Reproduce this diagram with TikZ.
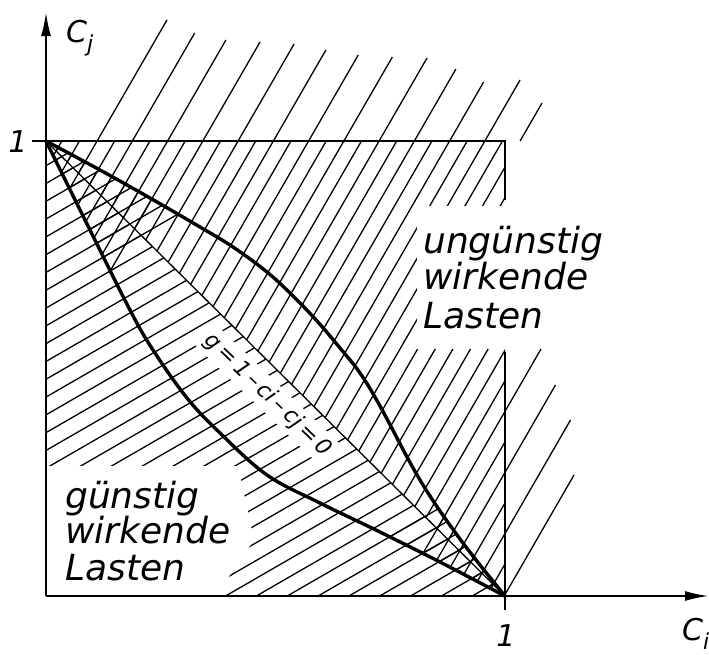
\documentclass[tikz,border=0pt]{standalone}
\usepackage{fontspec}
\setmainfont{DejaVu Sans}
\usetikzlibrary{arrows.meta}
\begin{document}
\begin{tikzpicture}[x=1pt,y=-1pt,
  thinl/.style={line width=1.3pt},
  edge/.style={line width=2.4pt},
  thickcurve/.style={line width=3.4pt, line join=round, line cap=round},
  lab/.style={font=\fontsize{36}{40}\selectfont\itshape, inner sep=0pt, anchor=base west},
  axlab/.style={font=\fontsize{30}{34}\selectfont\itshape, inner sep=0pt},
  numlab/.style={font=\fontsize{30}{34}\selectfont\itshape, inner sep=0pt},
  axis/.style={line width=2.2pt, -{Latex[length=24pt,width=10pt]}}
]
\useasboundingbox (0,0) rectangle (709,654);
\coordinate (O) at (46,596);
\coordinate (A) at (46,141);
\coordinate (B) at (505,596);
\coordinate (C) at (505,141);

% steep hatch inside, above diagonal
\begin{scope}
\clip (A) -- (C) -- (B) -- cycle;
\foreach \j in {-4,...,40} {
  \pgfmathsetmacro\k{178.5+17.625*\j}
  \draw[thinl] (\k,0) -- ({\k-377.6},654);
}
\end{scope}
% shallow hatch below diagonal
\begin{scope}
\clip (A) -- (O) -- (B) -- cycle;
\foreach \j in {-4,...,42} {
  \pgfmathsetmacro\m{210+17.8*\j}
  \draw[thinl] (0,\m) -- (709,{\m-409.3});
}
\end{scope}
% cross-hatching between the two curves near both corners
\begin{scope}
\clip plot[smooth, tension=0.6] coordinates {(46,141) (100,170) (150,198) (200,227) (233,247) (267,272) (293,296) (317,321) (340,348) (360,373) (380,406) (420,480) (460,539) (505,596)}
  -- plot[smooth, tension=0.6] coordinates {(505,596) (440,562) (380,532) (320,503) (267,475) (220,433) (187,398) (153,350) (130,310) (88,226) (46,141)} -- cycle;
\foreach \j in {-3,...,5,32,33,...,38} {
  \pgfmathsetmacro\k{178.5+17.625*\j}
  \draw[thinl] (\k,0) -- ({\k-377.6},654);
}
\foreach \j in {-2,...,6,31,32,...,38} {
  \pgfmathsetmacro\m{210+17.8*\j}
  \draw[thinl] (0,\m) -- (709,{\m-409.3});
}
\end{scope}
% outer steep hatch above the square
\foreach \n/\ye in {0/20,1/33,2/40,3/42,4/44,5/50,6/55,7/57,8/58,9/69,10/82,11/80,12/103} {
  \pgfmathsetmacro\k{178.5+35.25*\n}
  \draw[thinl] ({\k-0.57735*\ye},\ye) -- ({\k-0.57735*141},141);
}
% outer steep hatch right of the square
\foreach \n/\ye in {16/348,17/385,18/420,19/475} {
  \pgfmathsetmacro\k{178.5+35.25*\n}
  \draw[thinl] ({\k-0.57735*\ye},\ye) -- (505,{(\k-505)/0.57735});
}

% white areas behind texts
\fill[white] (417,206) rectangle (625,349);
\fill[white] (40,466) -- (238,466) -- (254,540) -- (230,575) -- (216,602) -- (40,602) -- cycle;

% square
\draw[edge] (32,141) -- (C) -- (505,200);
\draw[edge] (505,352) -- (505,610);
% diagonal g = 0
\draw[thinl] (A) -- (B);

% label of g
\node[fill=white, inner sep=4pt, rotate=-44, font=\fontsize{22}{26}\selectfont\itshape] (glab) at (268,395)
  {g\,=\,1\,–\,ci\,–\,cj\,=\,0};

% curves
\draw[thickcurve] plot[smooth, tension=0.6] coordinates {(46,141) (100,170) (150,198) (200,227) (233,247) (267,272) (293,296) (317,321) (340,348) (360,373) (380,406) (420,480) (460,539) (505,596)};
\draw[thickcurve] plot[smooth, tension=0.6] coordinates {(46,141) (88,226) (130,310) (153,350) (187,398) (220,433) (267,475) (320,503) (380,532) (440,562) (505,596)};

% axes
\draw[axis] (O) -- (46,12);
\draw[axis] (O) -- (709,596);

% labels
\node[axlab, anchor=north west] (cj) at (66,20) {C\raisebox{-0.55ex}{\fontsize{22}{24}\selectfont j}};
\node[axlab, anchor=north west] (ci) at (682,618) {C\raisebox{-0.55ex}{\fontsize{22}{24}\selectfont i}};
\node[numlab] (one1) at (18,142) {1};
\node[numlab] (one2) at (506,636) {1};

\node[lab] (u1) at (423,253) {ungünstig};
\node[lab] (u2) at (423,289) {wirkende};
\node[lab] (u3) at (423,328) {Lasten};
\node[lab] (g1) at (65,508) {günstig};
\node[lab] (g2) at (65,543) {wirkende};
\node[lab] (g3) at (65,580) {Lasten};
\end{tikzpicture}
\end{document}
